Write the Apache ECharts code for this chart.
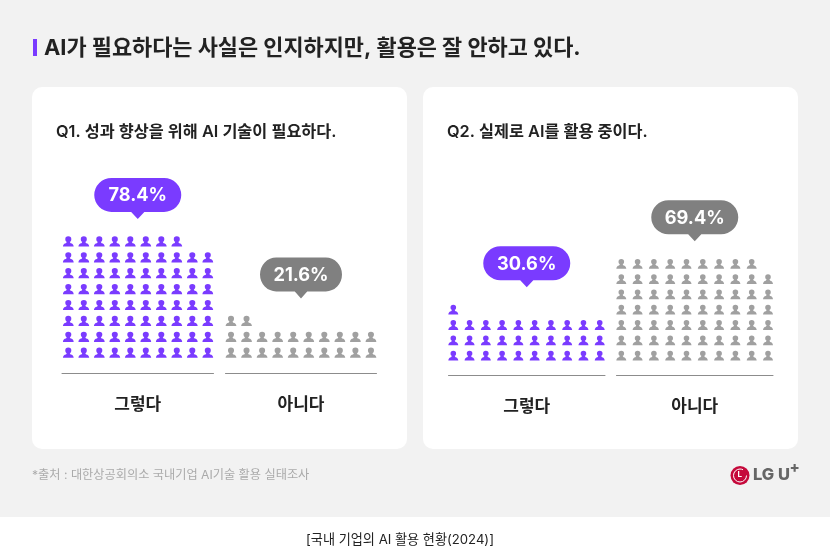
<!DOCTYPE html>
<html><head><meta charset="utf-8">
<style>html,body{margin:0;padding:0;background:#fff}#c{width:830px;height:550px}</style>
<script src="https://cdn.jsdelivr.net/npm/echarts@6/dist/echarts.min.js"></script>
</head><body><div id="c"></div>
<script>
const categories = ['그렇다', '아니다'];
const q1Percent = [78.4, 21.6];
const q2Percent = [30.6, 69.4];
const q1Icons = [78, 22];
const q2Icons = [31, 69];
const headline = 'AI가 필요하다는 사실은 인지하지만, 활용은 잘 안하고 있다.';
const q1Title = 'Q1. 성과 향상을 위해 AI 기술이 필요하다.';
const q2Title = 'Q2. 실제로 AI를 활용 중이다.';
const sourceNote = '*출처 : 대한상공회의소 국내기업 AI기술 활용 실태조사';
const caption = '[국내 기업의 AI 활용 현황(2024)]';

const PURPLE = '#7a3bff', GREY_ICON = '#a0a0a0', GREY_BUB = '#808080';
const FONT = 'Inter, "Noto Sans CJK KR", sans-serif';
const PERSON = 'path://M10 0a5.6 5.6 0 1 1 0 11.2a5.6 5.6 0 1 1 0-11.2Z M0 20C0.3 16 2.5 14 5.5 13.4C6.5 12.6 7 11.5 7 9H13C13 11.5 13.5 12.6 14.5 13.4C17.5 14 19.7 16 20 20Z';
const PILL = 'path://M17 0H69A17 17 0 0 1 69 34H49.5L43 41L36.5 34H17A17 17 0 0 1 17 0Z';

const COLS = 10;
function cells(n) {
  const out = [];
  for (let i = 0; i < n; i++) out.push([i % COLS, Math.floor(i / COLS)]);
  return out;
}
const panels = [
  {cat: 0, pct: q1Percent[0], n: q1Icons[0], color: PURPLE, bub: PURPLE, bw: 87, left: 62, right: 213.5, base: 373.3, row0: 352.7, rowH: 15.9, colH: 15.5, c0: 68.3, size: [10.8, 10.2]},
  {cat: 1, pct: q1Percent[1], n: q1Icons[1], color: GREY_ICON, bub: GREY_BUB, bw: 82, left: 225.5, right: 376.5, base: 373.3, row0: 352.7, rowH: 15.9, colH: 15.55, c0: 231, size: [10.8, 10.2]},
  {cat: 0, pct: q2Percent[0], n: q2Icons[0], color: PURPLE, bub: PURPLE, bw: 87, left: 448.5, right: 605, base: 375.3, row0: 355.6, rowH: 15.3, colH: 16.27, c0: 453.3, size: [10, 9.8]},
  {cat: 1, pct: q2Percent[1], n: q2Icons[1], color: GREY_ICON, bub: GREY_BUB, bw: 87, left: 616.5, right: 773, base: 375.3, row0: 355.6, rowH: 15.3, colH: 16.3, c0: 621.3, size: [10, 9.8]}
];
const grid = [], xAxis = [], yAxis = [], series = [];
panels.forEach((p, i) => {
  const maxRow = 8;
  const top = p.row0 - maxRow * p.rowH;
  grid.push({left: p.left, top, width: p.right - p.left, height: p.base - top});
  const xmin = -(p.c0 - p.left) / p.colH;
  xAxis.push({
    gridIndex: i, type: 'value', min: xmin, max: xmin + (p.right - p.left) / p.colH,
    axisLine: {show: true, onZero: false, lineStyle: {color: '#8c8c8c', width: 1}},
    axisTick: {show: false}, axisLabel: {show: false}, splitLine: {show: false},
    name: categories[p.cat], nameLocation: 'middle', nameGap: 23,
    nameTextStyle: {fontFamily: FONT, fontSize: 17, fontWeight: 600, color: '#222'}
  });
  yAxis.push({
    gridIndex: i, type: 'value', min: -(p.base - p.row0) / p.rowH, max: maxRow, show: false
  });
  const data = cells(p.n);
  series.push({
    type: 'scatter', xAxisIndex: i, yAxisIndex: i, data, symbol: PERSON, symbolSize: p.size,
    itemStyle: {color: p.color, opacity: 1}, silent: true, clip: false
  });
  const topRow = data[data.length - 1][1];
  const mid = xmin + (p.right - p.left) / p.colH / 2;
  series.push({
    type: 'scatter', xAxisIndex: i, yAxisIndex: i, z: 3, silent: true, clip: false,
    data: [{value: [mid, topRow], pct: p.pct}],
    symbol: PILL, symbolSize: [p.bw, 41], symbolOffset: [0, -43],
    itemStyle: {color: p.bub, opacity: 1},
    label: {
      show: true, position: 'inside', offset: [0, -2.5],
      formatter: () => p.pct.toFixed(1) + '%',
      fontFamily: FONT, fontSize: 18.2, fontWeight: 700, color: '#fff'
    }
  });
});

const txt = (text, left, top, size, weight, color) => ({
  text, left, top, padding: 0, textStyle: {fontFamily: FONT, fontSize: size, fontWeight: weight, color, lineHeight: size * 1.2}
});

const option = {
  animation: false,
  backgroundColor: '#ffffff',
  title: [
    txt(headline, 44, 35, 21.9, 700, '#222'),
    txt(q1Title, 56, 122.5, 16.3, 600, '#222'),
    txt(q2Title, 447, 122.5, 16.3, 600, '#222'),
    txt(sourceNote, 32, 468, 12.2, 400, '#aaaaaa'),
    txt(caption, 306, 532, 13.15, 400, '#222')
  ],
  grid, xAxis, yAxis, series,
  graphic: [
    {type: 'rect', z: -10, shape: {x: 0, y: 0, width: 830, height: 517}, style: {fill: '#f2f2f2'}},
    {type: 'rect', z: -9, shape: {x: 32, y: 87, width: 375, height: 362, r: 10}, style: {fill: '#fff'}},
    {type: 'rect', z: -9, shape: {x: 423, y: 87, width: 375, height: 362, r: 10}, style: {fill: '#fff'}},
    {type: 'rect', z: -8, shape: {x: 33, y: 39, width: 4, height: 17}, style: {fill: PURPLE}},
    {type: 'circle', z: -8, shape: {cx: 740, cy: 475.5, r: 9.5}, style: {fill: '#c5093b'}},
    {type: 'arc', z: -7, shape: {cx: 740, cy: 475.5, r: 6.5, startAngle: 0, endAngle: 5.2}, style: {stroke: '#fff', lineWidth: 1, fill: null}},
    {type: 'text', z: -7, style: {x: 737.5, y: 471, text: 'L', fill: '#fff', font: '700 8px ' + FONT}},
    {type: 'text', z: -7, style: {x: 753, y: 466.5, text: 'LG U', fill: '#666666', font: '800 16.5px ' + FONT}},
    {type: 'text', z: -7, style: {x: 789.5, y: 461, text: '+', fill: '#666666', font: '800 15px ' + FONT}}
  ]
};
const chart = echarts.init(document.getElementById('c'), null, {renderer: 'canvas'});
chart.setOption(option);
</script></body></html>
